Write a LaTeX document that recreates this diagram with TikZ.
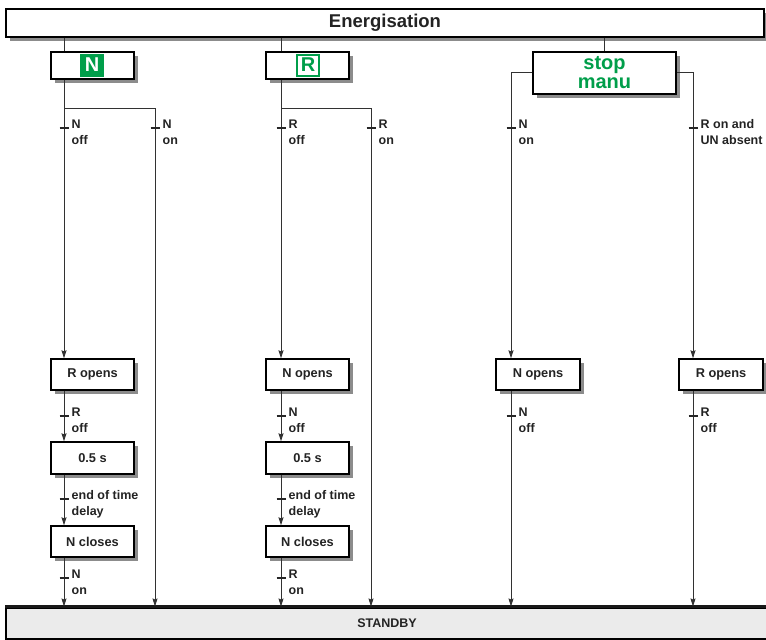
\documentclass[tikz,border=0pt]{standalone}
\usepackage{fontspec}
\setmainfont{Liberation Sans}
\usetikzlibrary{arrows.meta,shadows,calc}
\definecolor{sgreen}{RGB}{0,158,74}
\definecolor{lnc}{RGB}{50,50,50}
\definecolor{txt}{RGB}{35,35,35}
\newcommand\mytrans[4]{%
  \coordinate (#1) at (#2,#3);
  \draw[tickm] ([xshift=-4.5pt]#1) -- ([xshift=4.5pt]#1);
  \node[lab] (#1l) at ([xshift=7.5pt,yshift=-16pt]#1) {#4};}
\begin{document}
\begin{tikzpicture}[x=1pt,y=-1pt,
  box/.style={draw=black,line width=1.3pt,fill=white,rectangle,inner sep=0pt,
    drop shadow={shadow xshift=4pt,shadow yshift=-4pt,fill=black!45,opacity=1},
    font=\fontsize{12.8}{15}\selectfont\bfseries,text=txt,
    minimum width=83pt,minimum height=31pt},
  conn/.style={draw=lnc,line width=1pt},
  arr/.style={conn,-{Stealth[length=8pt,width=5pt,inset=1pt]}},
  tickm/.style={draw=black!85,line width=2pt},
  lab/.style={anchor=base west,inner sep=0pt,align=left,text=txt,
    font=\fontsize{12.5}{16}\selectfont\bfseries}]
\useasboundingbox (0,0) rectangle (766,640);

% column x positions
\coordinate (x1) at (64,0);
\coordinate (x1b) at (155,0);
\coordinate (x2) at (281,0);
\coordinate (x2b) at (371,0);
\coordinate (x3) at (511,0);
\coordinate (x4) at (693,0);

% top box
\node[box,minimum width=758pt,minimum height=28pt,
  font=\fontsize{18.5}{20}\selectfont\bfseries] (en) at (385,23) {Energisation};

% mode boxes
\node[box,minimum height=27pt] (nb) at (92.5,65.5) {};
\node[fill=sgreen,text=white,inner sep=0pt,minimum width=24pt,minimum height=23pt,
  font=\fontsize{20}{20}\selectfont\bfseries] (nsym) at (92,65) {N};
\node[box,minimum height=27pt] (rb) at (307.5,65.5) {};
\node[draw=sgreen,line width=2pt,fill=white,text=sgreen,inner sep=0pt,minimum width=22pt,minimum height=21pt,
  font=\fontsize{20}{20}\selectfont\bfseries] (rsym) at (308,65) {R};
\node[box,minimum width=143pt,minimum height=42pt,align=center,text=sgreen,
  font=\fontsize{20}{19}\selectfont\bfseries] (sm) at (604.5,73) {stop\\manu};

% column 1
\node[box] (c1a) at (92.5,374.5) {R opens};
\node[box,minimum height=32pt] (c1b) at (92.5,458) {0.5 s};
\node[box] (c1c) at (92.5,541.5) {N closes};
% column 2
\node[box] (c2a) at (307.5,374.5) {N opens};
\node[box,minimum height=32pt] (c2b) at (307.5,458) {0.5 s};
\node[box] (c2c) at (307.5,541.5) {N closes};
% column 3 and 4
\node[box,minimum width=84pt] (c3a) at (538,374.5) {N opens};
\node[box,minimum width=84pt] (c4a) at (721,374.5) {R opens};

% standby
\node[draw=black,line width=2pt,fill=black!8,inner sep=0pt,
  minimum width=762pt,minimum height=31pt,text=txt,
  font=\fontsize{12.5}{15}\selectfont\bfseries] (sb) at (387,623) {STANDBY};
\draw[line width=3.3pt,black!90] (sb.north west) -- (sb.north east);

% connectors from Energisation
\draw[conn] (en.south -| x1) -- (nb.north -| x1);
\draw[conn] (en.south -| x2) -- (rb.north -| x2);
\draw[conn] (en.south -| sm) -- (sm.north);

% column 1
\coordinate (br1) at (155,108);
\draw[arr] (nb.south -| x1) -- (c1a.north -| x1);
\draw[arr] (x1 |- br1) -- (br1) -- (sb.north -| br1);
\draw[arr] (c1a.south -| x1) -- (c1b.north -| x1);
\draw[arr] (c1b.south -| x1) -- (c1c.north -| x1);
\draw[arr] (c1c.south -| x1) -- (sb.north -| x1);

% column 2
\coordinate (br2) at (371,108);
\draw[arr] (rb.south -| x2) -- (c2a.north -| x2);
\draw[arr] (x2 |- br2) -- (br2) -- (sb.north -| br2);
\draw[arr] (c2a.south -| x2) -- (c2b.north -| x2);
\draw[arr] (c2b.south -| x2) -- (c2c.north -| x2);
\draw[arr] (c2c.south -| x2) -- (sb.north -| x2);

% columns 3 and 4
\coordinate (sml) at ($(sm.west)+(0,-1)$);
\coordinate (smr) at ($(sm.east)+(0,-1)$);
\draw[arr] (sml) -| (c3a.north -| x3);
\draw[arr] (smr) -| (c4a.north -| x4);
\draw[arr] (c3a.south -| x3) -- (sb.north -| x3);
\draw[arr] (c4a.south -| x4) -- (sb.north -| x4);

% transitions
\mytrans{t11}{64}{128}{N\\off}
\mytrans{t12}{155}{128}{N\\on}
\mytrans{t13}{64}{416}{R\\off}
\mytrans{t14}{64}{499}{end of time\\delay}
\mytrans{t15}{64}{578}{N\\on}
\mytrans{t21}{281}{128}{R\\off}
\mytrans{t22}{371}{128}{R\\on}
\mytrans{t23}{281}{416}{N\\off}
\mytrans{t24}{281}{499}{end of time\\delay}
\mytrans{t25}{281}{578}{R\\on}
\mytrans{t31}{511}{128}{N\\on}
\mytrans{t32}{511}{416}{N\\off}
\mytrans{t41}{693}{128}{R on and\\UN absent}
\mytrans{t42}{693}{416}{R\\off}
\end{tikzpicture}
\end{document}
